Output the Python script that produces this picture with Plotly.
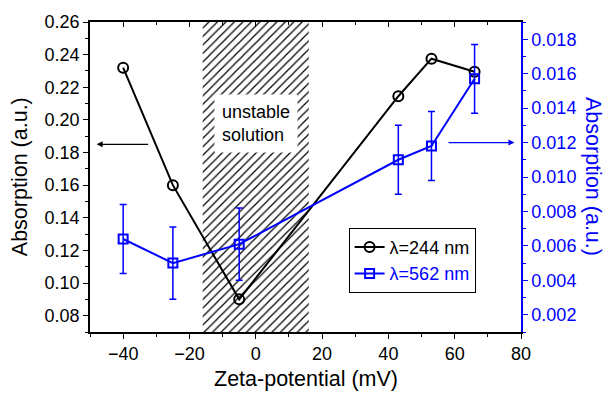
import plotly.graph_objects as go

zeta_244 = [-40, -25, -5, 43, 53, 66]
abs_244 = [0.232, 0.160, 0.090, 0.2145, 0.2375, 0.2295]

zeta_562 = [-40, -25, -5, 43, 53, 66]
abs_562 = [0.0064, 0.0050, 0.0061, 0.0110, 0.0118, 0.0157]
err_562 = [0.0020, 0.0021, 0.0021, 0.0020, 0.0020, 0.0020]

unstable_range = [-16, 16]
x_range = [-50, 80]
yl_range = [0.07, 0.26]
yr_range = [0.001, 0.019]
x_ticks = [-40, -20, 0, 20, 40, 60, 80]
yl_ticks = [0.08, 0.10, 0.12, 0.14, 0.16, 0.18, 0.20, 0.22, 0.24, 0.26]
yr_ticks = [0.002, 0.004, 0.006, 0.008, 0.010, 0.012, 0.014, 0.016, 0.018]

FONT = "Liberation Sans, Arial, sans-serif"
BLUE = "#0000ff"

fig = go.Figure()

# hatched unstable region
fig.add_trace(go.Bar(
    x=[(unstable_range[0] + unstable_range[1]) / 2],
    y=[yl_range[1] - yl_range[0]],
    base=[yl_range[0]],
    width=[unstable_range[1] - unstable_range[0]],
    marker=dict(color="white", line=dict(width=0),
                pattern=dict(shape="/", fgcolor="black", bgcolor="white", size=6,
                             solidity=0.2, fgopacity=1)),
    showlegend=False, hoverinfo="skip", xaxis="x", yaxis="y"))

fig.add_trace(go.Scatter(
    x=zeta_244, y=abs_244, mode="lines+markers", name="λ=244 nm",
    line=dict(color="black", width=2),
    marker=dict(symbol="circle-open", size=10, color="black", line=dict(width=2)),
    xaxis="x", yaxis="y"))

fig.add_trace(go.Scatter(
    x=zeta_562, y=abs_562, mode="lines+markers",
    name="<span style='color:#0000ff'>λ=562 nm</span>",
    line=dict(color=BLUE, width=2),
    marker=dict(symbol="square-open", size=9, color=BLUE, line=dict(width=2)),
    error_y=dict(type="data", array=err_562, color=BLUE, thickness=1.5, width=3.5),
    xaxis="x", yaxis="y2"))

# dummy trace to activate top axis
fig.add_trace(go.Scatter(x=[None], y=[None], xaxis="x2", yaxis="y", showlegend=False))

fig.update_layout(
    width=608, height=394,
    margin=dict(l=90, r=87, t=16, b=62),
    paper_bgcolor="white", plot_bgcolor="white",
    font=dict(family=FONT, size=18, color="black"),
    barmode="overlay",
    xaxis=dict(range=x_range, tickvals=x_ticks,
               ticks="outside", ticklen=5, tickwidth=1, tickcolor="black",
               minor=dict(dtick=10, tick0=0, ticks="outside", ticklen=3, tickcolor="black"),
               showline=True, linecolor="black", linewidth=1.5, showgrid=False, zeroline=False,
               tickfont=dict(size=18)),
    xaxis2=dict(range=x_range, overlaying="x", side="top", matches="x",
                tickvals=x_ticks,
                ticks="inside", ticklen=5, tickcolor="black", showticklabels=False,
                minor=dict(dtick=10, tick0=0, ticks="inside", ticklen=3, tickcolor="black"),
                showline=True, linecolor="black", linewidth=1.5, showgrid=False, zeroline=False),
    yaxis=dict(range=yl_range, tickvals=yl_ticks, tickformat=".2f",
               ticks="outside", ticklen=5, tickcolor="black",
               minor=dict(dtick=0.01, tick0=0.07, ticks="outside", ticklen=3, tickcolor="black"),
               showline=True, linecolor="black", linewidth=1.5, showgrid=False, zeroline=False,
               tickfont=dict(size=18)),
    yaxis2=dict(range=yr_range, overlaying="y", side="right", anchor="x",
                tickvals=yr_ticks, tickformat=".3f",
                ticks="outside", ticklen=5, tickcolor=BLUE,
                minor=dict(dtick=0.001, tick0=0.001, ticks="outside", ticklen=3, tickcolor=BLUE),
                showline=True, linecolor=BLUE, linewidth=1.5, showgrid=False, zeroline=False,
                tickfont=dict(size=18, color=BLUE)),
    legend=dict(x=0.6, y=0.336, xanchor="left", yanchor="top",
                bordercolor="black", borderwidth=1, bgcolor="white",
                font=dict(size=18), tracegroupgap=0, itemwidth=30),
    annotations=[
        dict(text="unstable<br>solution", x=0, y=0.1975, xref="x", yref="y",
             showarrow=False, bgcolor="white", borderpad=7, font=dict(size=18), align="left"),
        dict(text="", x=-48, y=0.185, ax=-32, ay=0.185, xref="x", yref="y",
             axref="x", ayref="y", showarrow=True, arrowhead=2, arrowsize=1,
             arrowwidth=1.2, arrowcolor="black"),
        dict(text="", x=78, y=0.012, ax=57.7, ay=0.012, xref="x", yref="y2",
             axref="x", ayref="y2", showarrow=True, arrowhead=2, arrowsize=1,
             arrowwidth=1.2, arrowcolor=BLUE),
        dict(text="Absorption (a.u.)", x=-0.162, y=0.5, xref="paper", yref="paper",
             xanchor="center", yanchor="middle",
             textangle=-90, showarrow=False, font=dict(size=21.5)),
        dict(text="Absorption (a.u.)", x=1.167, y=0.5, xref="paper", yref="paper",
             xanchor="center", yanchor="middle",
             textangle=90, showarrow=False, font=dict(size=21.5, color=BLUE)),
        dict(text="Zeta-potential (mV)", x=0.5, y=-0.152, xref="paper", yref="paper",
             xanchor="center", yanchor="middle", showarrow=False, font=dict(size=21.5)),
    ],
)

fig.write_html("out.html",
               config={"displayModeBar": False},
               post_script="document.body.style.margin='0';document.body.style.padding='0';")
